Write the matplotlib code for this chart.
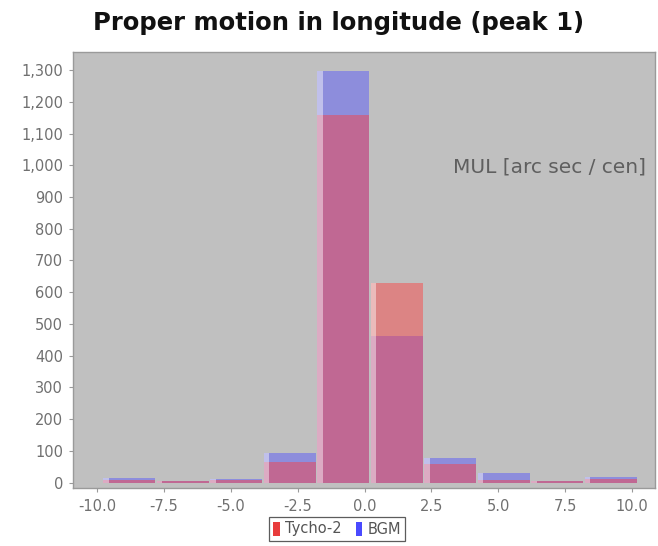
import matplotlib
matplotlib.use("Agg")
import matplotlib.pyplot as plt
from matplotlib.patches import Patch
from matplotlib.ticker import FuncFormatter

# Histogram bin centres (MUL, arc sec / cen) and counts per catalogue
bin_centers = [-8.8, -6.8, -4.8, -2.8, -0.8, 1.2, 3.2, 5.2, 7.2, 9.2]
tycho_counts = [9, 4, 9, 65, 1160, 630, 60, 8, 4, 10]
bgm_counts = [14, 5, 11, 93, 1297, 463, 77, 30, 5, 17]

x_ticks = [-10.0, -7.5, -5.0, -2.5, 0.0, 2.5, 5.0, 7.5, 10.0]
y_ticks = list(range(0, 1301, 100))

bar_width = 1.95
tycho_color = (1.0, 0.235, 0.235, 0.45)
bgm_color = (0.314, 0.314, 1.0, 0.45)
plot_bg = "#c0c0c0"
tick_gray = "#707070"

fig = plt.figure(figsize=(6.58, 5.46), dpi=100)
ax = fig.add_axes([73 / 658, 1 - 488 / 546, (655 - 73) / 658, (488 - 52) / 546])
ax.set_facecolor(plot_bg)

ax.bar(bin_centers, bgm_counts, width=bar_width, color=bgm_color, linewidth=0, zorder=2)
ax.bar(bin_centers, tycho_counts, width=bar_width, color=tycho_color, linewidth=0, zorder=3)

# light highlight strip on the left side of each bar
hl_w = 0.22
hl_x = [c - bar_width / 2 + hl_w / 2 for c in bin_centers]
hl_h = [max(t, b) for t, b in zip(tycho_counts, bgm_counts)]
ax.bar(hl_x, hl_h, width=hl_w, color=(1, 1, 1, 0.45), linewidth=0, zorder=4)

ax.set_xlim(-10.9, 10.86)
ax.set_ylim(-17, 1357)
ax.set_xticks(x_ticks)
ax.set_yticks(y_ticks)
ax.xaxis.set_major_formatter(FuncFormatter(lambda v, p: f"{v:.1f}"))
ax.yaxis.set_major_formatter(FuncFormatter(lambda v, p: f"{int(v):,}"))
ax.tick_params(axis="both", colors="#9a9a9a", labelcolor=tick_gray,
               labelsize=10.5, length=3, width=0.8)
ax.tick_params(axis="y", pad=4)
ax.tick_params(axis="x", pad=5)

for side, sp in ax.spines.items():
    sp.set_color("#9a9a9a")
    sp.set_linewidth(1.0)

ax.text(0.985, 0.736, "MUL [arc sec / cen]", transform=ax.transAxes,
        ha="right", va="center", fontsize=14.5, color="#5f5f5f")

fig.text(0.515, 1 - 23 / 546, "Proper motion in longitude (peak 1)",
         ha="center", va="center", fontsize=17.5, fontweight="bold", color="#111111")

handles = [Patch(facecolor="#e83c3c", edgecolor="none", label="Tycho-2"),
           Patch(facecolor="#4a4aff", edgecolor="none", label="BGM")]
leg = fig.legend(handles=handles, loc="center", bbox_to_anchor=(337 / 658, 1 - 529 / 546),
                 ncol=2, fontsize=10.5, frameon=True, fancybox=False,
                 handlelength=0.45, handleheight=1.1, handletextpad=0.35,
                 columnspacing=1.0, borderpad=0.3, labelcolor="#555555")
leg.get_frame().set_edgecolor("#333333")
leg.get_frame().set_linewidth(0.9)

fig.savefig("out.png", dpi=100)
